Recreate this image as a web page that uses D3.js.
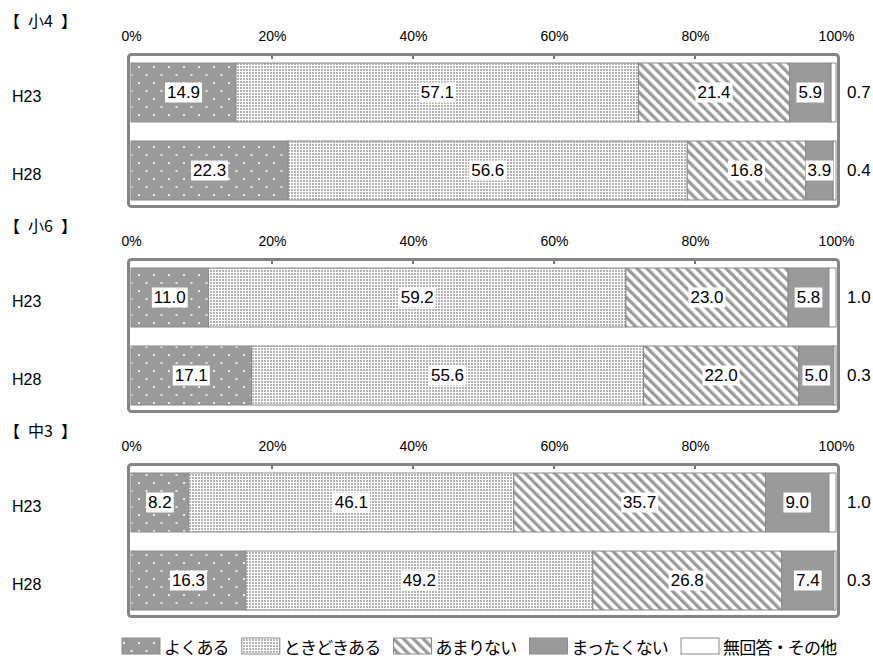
<!DOCTYPE html>
<meta charset="utf-8">
<html>
<head>
<style>
  body { margin: 0; background: #fff; }
  text { font-family: "Liberation Sans", Arial, sans-serif; }
  .jp { font-family: "Noto Sans CJK JP", sans-serif; }
</style>
</head>
<body>
<script src="https://d3js.org/d3.v7.min.js"></script>
<div id="my_dataviz"></div>

<script>
    // data
    var panels = ["小4", "小6", "中3"];
    var years = ["H23", "H28"];
    var categories = ["よくある", "ときどきある", "あまりない", "まったくない", "無回答・その他"];
    var sho4 = [[14.9, 57.1, 21.4, 5.9, 0.7], [22.3, 56.6, 16.8, 3.9, 0.4]];
    var sho6 = [[11.0, 59.2, 23.0, 5.8, 1.0], [17.1, 55.6, 22.0, 5.0, 0.3]];
    var chu3 = [[8.2, 46.1, 35.7, 9.0, 1.0], [16.3, 49.2, 26.8, 7.4, 0.3]];
    var tickValues = [0, 20, 40, 60, 80, 100];
    var panelData = [sho4, sho6, chu3];

    var width = 873, height = 662;
    var panelStep = 205;

    var svg = d3.select("#my_dataviz")
      .append("svg")
        .attr("width", width)
        .attr("height", height);

    // fills
    var defs = svg.append("defs");
    var p1 = defs.append("pattern").attr("id", "pDots")
        .attr("patternUnits", "userSpaceOnUse").attr("width", 15).attr("height", 16);
    p1.append("rect").attr("width", 15).attr("height", 16).attr("fill", "#9a9a9a");
    p1.append("rect").attr("x", 3).attr("y", 2).attr("width", 2).attr("height", 2).attr("fill", "#eeeeee");
    p1.append("rect").attr("x", 10.5).attr("y", 10).attr("width", 2).attr("height", 2).attr("fill", "#eeeeee");

    var p2 = defs.append("pattern").attr("id", "pFine")
        .attr("patternUnits", "userSpaceOnUse").attr("width", 3).attr("height", 3);
    p2.append("rect").attr("width", 3).attr("height", 3).attr("fill", "#fff");
    p2.append("rect").attr("width", 2).attr("height", 2).attr("fill", "#b4b4b4");

    var p3 = defs.append("pattern").attr("id", "pStripe")
        .attr("patternUnits", "userSpaceOnUse").attr("width", 7).attr("height", 7)
        .attr("patternTransform", "rotate(-45)");
    p3.append("rect").attr("width", 7).attr("height", 7).attr("fill", "#fff");
    p3.append("rect").attr("width", 3.3).attr("height", 7).attr("fill", "#9a9a9a");

    var fills = ["url(#pDots)", "url(#pFine)", "url(#pStripe)", "#9a9a9a", "#fff"];

    var x = d3.scaleLinear().domain([0, 100]).range([131, 836]);

    var stack = d3.stack().keys(d3.range(categories.length));

    panelData.forEach(function(rows, i) {
      var off = i * panelStep;
      var g = svg.append("g");

      var y = d3.scaleBand().domain(years)
          .range([63 + off, 200 + off])
          .paddingInner(0.244).paddingOuter(0);

      // panel title
      g.append("text").attr("class", "jp")
        .attr("x", 4).attr("y", 20 + off)
        .attr("dominant-baseline", "central")
        .style("font-size", "16px")
        .text("【\u2002" + panels[i] + "\u2002】");

      // frame
      g.append("rect")
        .attr("x", 128.5).attr("y", 54.5 + off)
        .attr("width", 710).attr("height", 152)
        .attr("rx", 3)
        .attr("fill", "#fff")
        .attr("stroke", "#858585").attr("stroke-width", 3);

      // tick labels on top
      var ax = g.append("g")
        .attr("transform", "translate(0," + (44 + off) + ")")
        .call(d3.axisTop(x).tickValues(tickValues).tickSize(0).tickFormat(function(d) { return d + "%"; }));
      ax.select(".domain").remove();
      ax.selectAll("text")
        .style("font-size", "14px")
        .style("font-family", "Liberation Sans, Arial, sans-serif")
        .attr("fill", "#000");

      // little notches under the frame top
      g.selectAll(".notch").data(tickValues.slice(1, -1)).enter()
        .append("line")
          .attr("x1", function(d) { return x(d); }).attr("x2", function(d) { return x(d); })
          .attr("y1", 56 + off).attr("y2", 59 + off)
          .attr("stroke", "#777").attr("stroke-width", 2);

      var series = stack(rows);

      // bars
      series.forEach(function(s, k) {
        g.selectAll(".seg" + k).data(s).enter()
          .append("rect")
            .attr("x", function(d) { return x(d[0]); })
            .attr("y", function(d, j) { return y(years[j]); })
            .attr("width", function(d) { return x(d[1]) - x(d[0]); })
            .attr("height", y.bandwidth())
            .attr("fill", fills[k])
            .attr("stroke", "#8a8a8a").attr("stroke-width", 1);
      });

      // value labels inside bars (white box behind)
      series.slice(0, 4).forEach(function(s, k) {
        s.forEach(function(d, j) {
          var cx = x((d[0] + d[1]) / 2);
          var cy = y(years[j]) + y.bandwidth() / 2;
          var lg = g.append("g");
          var bg = lg.append("rect").attr("fill", "#fff");
          var t = lg.append("text")
            .attr("x", cx).attr("y", cy)
            .attr("text-anchor", "middle")
            .attr("dominant-baseline", "central")
            .style("font-size", "17px")
            .text(rows[j][k].toFixed(1));
          var bb = t.node().getBBox();
          bg.attr("x", bb.x - 2).attr("y", cy - 10)
            .attr("width", bb.width + 4).attr("height", 20);
        });
      });

      // no answer value outside
      years.forEach(function(yr, j) {
        g.append("text")
          .attr("x", 847).attr("y", y(yr) + y.bandwidth() / 2)
          .attr("dominant-baseline", "central")
          .style("font-size", "17px")
          .text(rows[j][4].toFixed(1));
      });

      // row labels
      years.forEach(function(yr) {
        g.append("text")
          .attr("x", 12).attr("y", y(yr) + y.bandwidth() / 2 + 4)
          .attr("dominant-baseline", "central")
          .style("font-size", "16px")
          .text(yr);
      });
    });

    // legend
    var lx = 122;
    categories.forEach(function(c, k) {
      svg.append("rect")
        .attr("x", lx).attr("y", 638)
        .attr("width", 38).attr("height", 16)
        .attr("fill", fills[k])
        .attr("stroke", "#8a8a8a").attr("stroke-width", 1);
      var t = svg.append("text").attr("class", "jp")
        .attr("x", lx + 42).attr("y", 646)
        .attr("dominant-baseline", "central")
        .style("font-size", "17px")
        .style("letter-spacing", "-0.8px")
        .text(c);
      lx += 42 + t.node().getComputedTextLength() + 13;
    });
</script>
</body>
</html>
